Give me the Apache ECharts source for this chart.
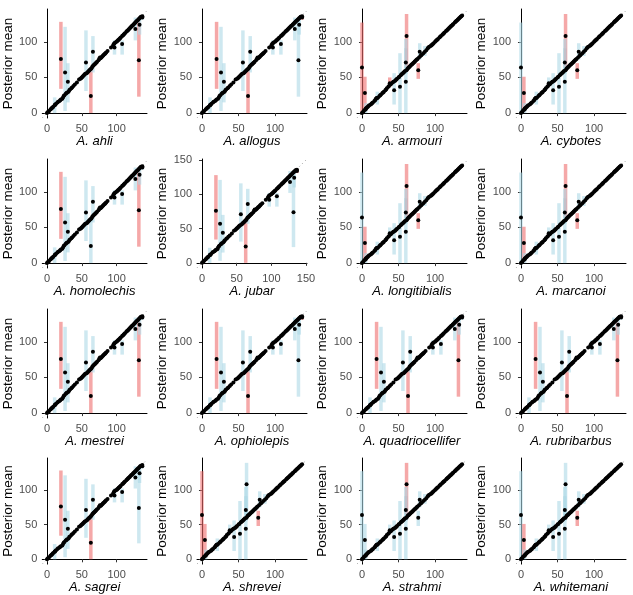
<!DOCTYPE html>
<html>
<head>
<meta charset="UTF-8">
<title></title>
<script src="https://cdn.jsdelivr.net/npm/echarts@6/dist/echarts.min.js"></script>
</head>
<body style="margin:0;background:#fff">
<div id="main" style="width:633px;height:595px;"></div>
<script type="text/javascript">
// species panels, in reading order
var species = ['A. ahli', 'A. allogus', 'A. armouri', 'A. cybotes',
    'A. homolechis', 'A. jubar', 'A. longitibialis', 'A. marcanoi',
    'A. mestrei', 'A. ophiolepis', 'A. quadriocellifer', 'A. rubribarbus',
    'A. sagrei', 'A. shrevei', 'A. strahmi', 'A. whitemani'];
var group = ['a', 'a', 'b', 'b', 'a', 'a', 'b', 'b', 'a', 'a', 'a', 'a', 'a', 'b', 'b', 'b'];

// points that sit on the diagonal: [true value, posterior mean]
var diagA = [[0,0],[1,1],[2,2],[3,3],[5,5],[6,6],[7,7],[8,8],[9,9],[11,11],[12,12],[13,13],[15,15],[16,16],[18,17],[19,18],[20,19],[22,20],[23,22],[24,24],[25,25],[27,27],[28,28],[29,29],[31,30],[32,32],[33,33],[35,35],[36,36],[38,38],[40,40],[43,43],[46,47],[48,48],[49,49],[50,50],[51,51],[52,52],[53,53],[54,54],[55,55],[57,56],[58,57],[59,58],[60,59],[61,60],[62,61],[63,62],[64,63],[65,65],[66,66],[67,67],[68,68],[69,69],[70,70],[71,71],[72,72],[74,74],[75,76],[76,78],[77,77],[78,78],[79,79],[80,80],[81,81],[82,82],[83,83],[84,84],[85,85],[87,87],[92,92],[95,95],[96,97],[97,98],[98,99],[100,100],[101,101],[102,102],[103,103],[104,104],[105,105],[106,106],[108,108],[109,109],[110,110],[111,111],[112,112],[114,114],[115,115],[116,116],[117,117],[118,118],[119,119],[120,120],[121,121],[122,122],[123,123],[124,124],[125,125],[126,126],[127,127],[128,128],[129,129],[130,130],[131,131],[132,132],[133,133],[134,134],[135,135],[136,135],[137,136]];
var diagB = [[0,0],[1,1],[2,2],[3,4],[5,6],[6,7],[7,8],[8,9],[9,10],[10,11],[12,12],[13,13],[14,14],[15,15],[17,17],[18,18],[19,20],[20,21],[22,22],[24,24],[25,25],[26,26],[28,28],[29,29],[30,30],[32,32],[33,33],[34,35],[36,37],[37,38],[39,40],[40,41],[42,43],[43,44],[45,45],[46,46],[47,47],[48,48],[50,50],[51,51],[53,53],[54,54],[55,55],[56,56],[57,57],[58,58],[59,59],[61,60],[62,62],[63,63],[64,64],[65,65],[66,66],[67,67],[68,68],[69,69],[70,70],[71,71],[72,72],[73,73],[74,74],[75,75],[76,76],[78,78],[80,80],[81,81],[82,82],[84,84],[88,88],[90,91],[91,92],[92,93],[94,94],[95,95],[96,96],[97,97],[98,98],[100,100],[101,101],[102,102],[103,103],[104,104],[106,106],[107,107],[108,108],[110,110],[111,111],[112,112],[113,113],[115,115],[116,116],[117,117],[118,118],[119,119],[120,120],[121,121],[122,122],[123,123],[124,124],[125,125],[127,127],[128,128],[129,129],[130,130],[131,131],[132,132],[133,133],[134,134],[135,135],[136,136],[137,137]];

// points with an interval: [true value, posterior mean, lower, upper]
var barsA = [[20,76,34,128],[26,57,3,121],[30,44,15,70],[56,71,31,116],[63,24,0,62],
    [66,86,57,108],[97,92,82,102],[108,97,82,102],[127,118,102,134],[132,74,23,128],
    [133,124,110,135],[11,11,0,22],[137,134,131,137]];
var barsB = [[0,64,0,127],[4,28,2,51],[38,42,37,50],[44,32,12,56],[52,37,0,84],
    [60,44,0,91],[61,108,65,139],[60,71,55,104],[77,60,48,70],[79,86,75,98],
    [5,5,0,14],[21,21,12,30],[86,86,80,94]];

// interval colour per panel, one letter per bar (r = red, b = blue)
var barColours = ['rbbbrbbbbrbbb', 'rbbbrbbbbbbbr', 'rrrbbbrbrbbbb', 'brbbbbrbrbbbb',
    'rbbbbbbbbrbbb', 'rbbbrbbbbbbbr', 'brbbbbrbrbbbb', 'brbbbbrbrbbbb',
    'rbbbrbbbbrbbb', 'rbbbrbbbbbbbr', 'rbbbrbbbbrbbb', 'rbbbrbbbbrbbb',
    'rbbbrbbbbbbbb', 'rrbbbbbbrbbbb', 'bbbbbbrbbbbbb', 'brbbbbbbrbbbb'];

var ticks = [0, 50, 100];
var ticksJubar = [0, 50, 100, 150];

var RED = 'rgba(238,110,110,0.6)';
var BLUE = 'rgba(173,216,230,0.6)';
var lefts = [37, 197, 357, 516];
var tops = [9, 159, 309, 458];

var myChart = echarts.init(document.getElementById('main'));
var grids = [], xAxes = [], yAxes = [], series = [];

species.forEach(function (name, i) {
    var col = i % 4, row = Math.floor(i / 4);
    var isJubar = name === 'A. jubar';
    var lo = isJubar ? -7.3 : -6.8, xHi = isJubar ? 151.5 : 143.7, yHi = isJubar ? 151.5 : 146;
    var diag = group[i] === 'a' ? diagA : diagB;
    var bars = group[i] === 'a' ? barsA : barsB;
    var tk = isJubar ? ticksJubar : ticks;

    grids.push({left: lefts[col], top: tops[row], width: 110, height: 109});
    var axisCommon = {
        gridIndex: i,
        type: 'value',
        splitLine: {show: false},
        axisLine: {lineStyle: {color: '#000', width: 1}},
        axisTick: {length: 3, lineStyle: {color: '#333'}, customValues: tk},
        axisLabel: {color: '#4d4d4d', fontSize: 11, fontFamily: 'Liberation Sans', customValues: tk, margin: 5},
        nameLocation: 'middle'
    };
    xAxes.push(Object.assign({}, axisCommon, {
        min: lo, max: xHi,
        name: name,
        nameGap: 15,
        nameTextStyle: {fontStyle: 'italic', fontSize: 13, fontFamily: 'Liberation Sans', color: '#000'}
    }));
    yAxes.push(Object.assign({}, axisCommon, {
        min: isJubar ? -7.5 : -6.9, max: yHi,
        name: 'Posterior mean',
        nameGap: 23,
        nameTextStyle: {fontSize: 13.5, fontFamily: 'Liberation Sans', color: '#000'}
    }));

    // reference line y = x
    series.push({
        type: 'line', xAxisIndex: i, yAxisIndex: i, silent: true,
        symbol: 'none', z: 1,
        lineStyle: {color: '#9a9a9a', width: 1, type: [1, 3]},
        data: [[lo, lo], [Math.min(xHi, yHi), Math.min(xHi, yHi)]]
    });

    // intervals
    series.push({
        type: 'custom', xAxisIndex: i, yAxisIndex: i, silent: true, z: 2,
        data: bars.map(function (b, k) {
            return [b[0], b[1], b[2], b[3], barColours[i][k] === 'r' ? 1 : 0];
        }),
        renderItem: function (params, api) {
            var p1 = api.coord([api.value(0), api.value(3)]);
            var p2 = api.coord([api.value(0), api.value(2)]);
            return {
                type: 'line',
                shape: {x1: p1[0], y1: p1[1], x2: p2[0], y2: p2[1]},
                style: {stroke: api.value(4) === 1 ? RED : BLUE, lineWidth: 3.5}
            };
        }
    });

    // posterior means
    series.push({
        type: 'scatter', xAxisIndex: i, yAxisIndex: i, silent: true, z: 3,
        symbolSize: 4,
        itemStyle: {color: '#000', opacity: 1},
        data: diag.concat(bars.map(function (b) { return [b[0], b[1]]; }))
    });
});

var option = {
    animation: false,
    grid: grids,
    xAxis: xAxes,
    yAxis: yAxes,
    series: series
};
myChart.setOption(option);
</script>
</body>
</html>
